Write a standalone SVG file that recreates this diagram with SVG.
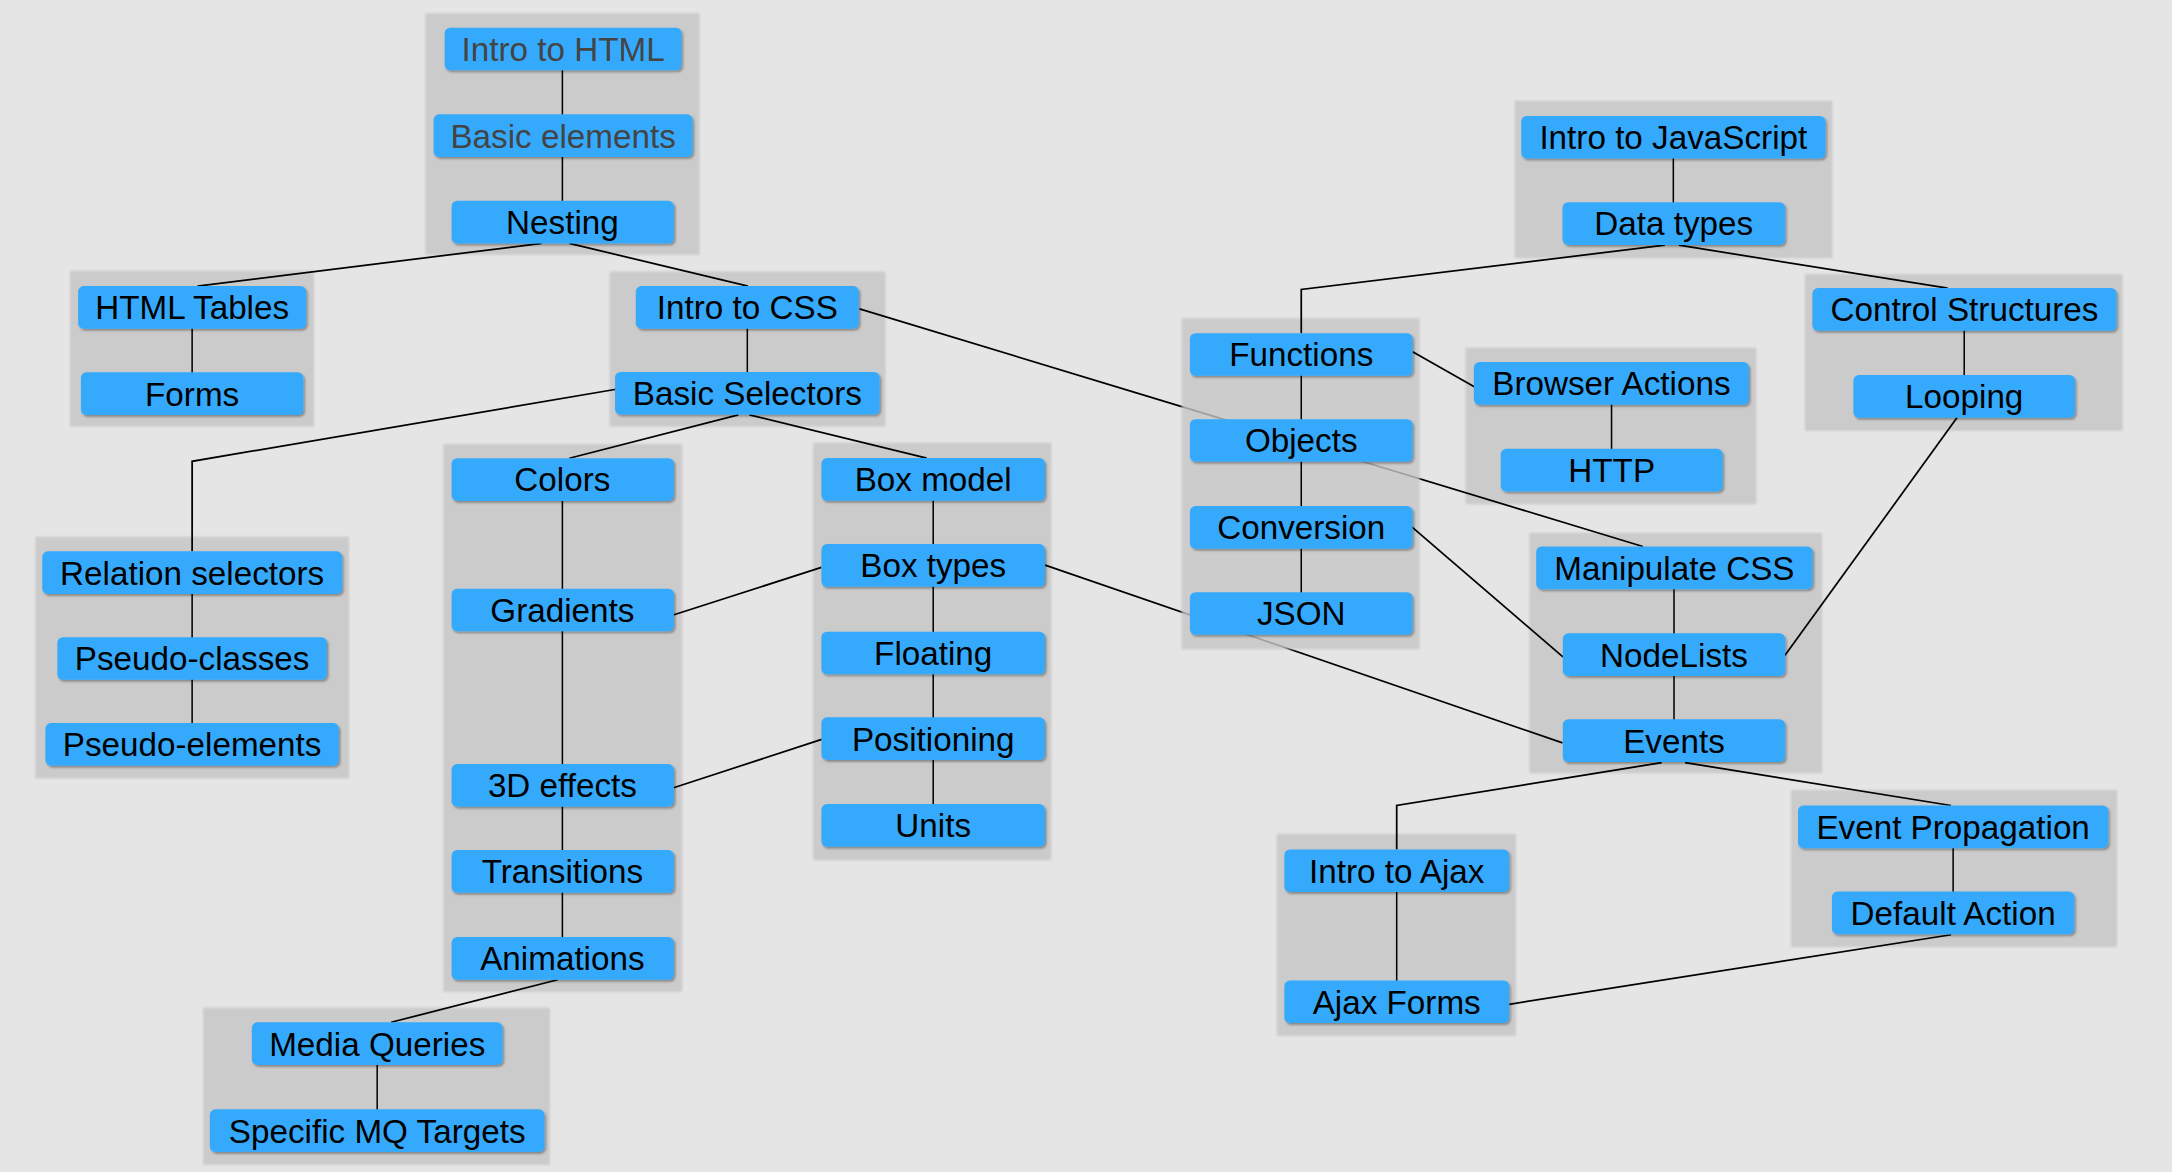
<svg xmlns="http://www.w3.org/2000/svg" width="2172" height="1172" viewBox="0 0 2172 1172">
<defs>
<filter id="sh" x="-10%" y="-20%" width="120%" height="150%">
<feDropShadow dx="1.1" dy="1.3" stdDeviation="0.8" flood-color="#000" flood-opacity="0.35"/>
</filter>
<filter id="soft" x="-5%" y="-5%" width="110%" height="110%">
<feGaussianBlur stdDeviation="0.7"/>
</filter>
<style>
.bg{fill:#e5e5e5}
.cl{fill:#cbcbcb;filter:url(#soft)}
.clf{fill:#c7c7c7;opacity:0.8;filter:url(#soft)}
.e{fill:none;stroke:#000;stroke-width:1.25}
.ei{fill:none;stroke:#000;stroke-width:1.1}
.n rect{fill:#35aafd;filter:url(#sh)}
.n text{font-family:"Liberation Sans",Arial,Helvetica,sans-serif;font-size:24px;fill:#000;text-anchor:middle}
.n.v text{fill:#444}
</style>
</defs>
<rect class="bg" x="0" y="0" width="2172" height="1172"/>
<g transform="scale(1.3852)">
<g id="clusters">
<rect class="cl" x="307" y="9.5" width="198" height="174.5"/>
<rect class="cl" x="50.5" y="195.5" width="176.2" height="112.5"/>
<rect class="cl" x="440" y="196" width="199.3" height="112"/>
<rect class="cl" x="25.5" y="387.5" width="226.5" height="174.5"/>
<rect class="cl" x="320" y="320.6" width="172.5" height="395.4"/>
<rect class="cl" x="587" y="319.6" width="172" height="301.4"/>
<rect class="cl" x="146.6" y="727.5" width="250.4" height="113.5"/>
<rect class="cl" x="1093.4" y="72.7" width="229.5" height="113.6"/>
<rect class="cl" x="1303" y="197.8" width="229.4" height="113.2"/>
<rect class="cl" x="1058" y="251" width="210" height="113"/>
<rect class="cl" x="1104" y="384.7" width="211.5" height="173.5"/>
<rect class="cl" x="921.7" y="602" width="172.8" height="145.8"/>
<rect class="cl" x="1292.9" y="570.3" width="235.5" height="113.4"/>
</g>
<g id="connectors">
<path class="e" d="M620.5,223 L1186,394.5"/>
<path class="e" d="M754.5,408 L1128,536.3"/>
<rect id="cluster-functions" class="clf" x="853" y="229.6" width="172" height="239.1"/>
<path class="e" d="M391,175.7 L142.5,206.5"/>
<path class="e" d="M411,175.7 L540,206.5"/>
<path class="e" d="M444.9,281 L138.7,333 V398"/>
<path class="e" d="M533,299.5 L411,330.8"/>
<path class="e" d="M541,299.5 L669,330.7"/>
<path class="e" d="M593,409.6 L486,444"/>
<path class="e" d="M593.2,533.8 L486.3,568.7"/>
<path class="e" d="M402.6,707.3 L282.4,738"/>
<path class="e" d="M1019.8,254 L1064.3,279.2"/>
<path class="e" d="M1019.2,380.3 L1128.5,474.4"/>
<path class="e" d="M1413,301.3 L1288.5,473.2"/>
<path class="e" d="M1201.8,177 L939.4,209 V240.5"/>
<path class="e" d="M1212,177 L1406,208"/>
<path class="e" d="M1199.6,550.5 L1008.3,581.5 V613.2"/>
<path class="e" d="M1216.5,550.5 L1408.5,581.5"/>
<path class="e" d="M1408.5,674.8 L1089.5,725"/>
<path class="ei" d="M406,35 V160"/>
<path class="ei" d="M138.7,220 V285"/>
<path class="ei" d="M539.5,220 V285"/>
<path class="ei" d="M138.7,410 V540"/>
<path class="ei" d="M406,345 V692"/>
<path class="ei" d="M673.7,345 V595"/>
<path class="ei" d="M272.3,752 V815"/>
<path class="ei" d="M1208,98 V160"/>
<path class="ei" d="M1418,222 V285"/>
<path class="ei" d="M1163.4,275 V338"/>
<path class="ei" d="M939.4,255 V442"/>
<path class="ei" d="M1208.5,408 V533"/>
<path class="ei" d="M1008.3,627 V722"/>
<path class="ei" d="M1410,595 V658"/>
</g>
<g id="n-intro-html" class="n v"><rect x="321" y="20" width="171" height="30.8" rx="4"/><text x="406.5" y="44">Intro to HTML</text></g>
<g id="n-basic-elements" class="n v"><rect x="313" y="82.5" width="187" height="30.8" rx="4"/><text x="406.5" y="106.5">Basic elements</text></g>
<g id="n-nesting" class="n"><rect x="326" y="145" width="160.5" height="30.8" rx="4"/><text x="406" y="169">Nesting</text></g>
<g id="n-html-tables" class="n"><rect x="56.4" y="206.5" width="164.6" height="30.8" rx="4"/><text x="138.7" y="230.5">HTML Tables</text></g>
<g id="n-forms" class="n"><rect x="58.4" y="268.8" width="160.6" height="30.8" rx="4"/><text x="138.7" y="292.8">Forms</text></g>
<g id="n-intro-css" class="n"><rect x="459" y="206.5" width="161" height="30.8" rx="4"/><text x="539.5" y="230.5">Intro to CSS</text></g>
<g id="n-basic-selectors" class="n"><rect x="444" y="268.5" width="191" height="30.8" rx="4"/><text x="539.5" y="292.5">Basic Selectors</text></g>
<g id="n-relation-selectors" class="n"><rect x="30.5" y="398" width="216.5" height="30.8" rx="4"/><text x="138.7" y="422">Relation selectors</text></g>
<g id="n-pseudo-classes" class="n"><rect x="41.4" y="460" width="194.6" height="30.8" rx="4"/><text x="138.7" y="484">Pseudo-classes</text></g>
<g id="n-pseudo-elements" class="n"><rect x="32.8" y="522" width="211.8" height="30.8" rx="4"/><text x="138.7" y="546">Pseudo-elements</text></g>
<g id="n-colors" class="n"><rect x="326" y="330.8" width="160.5" height="30.8" rx="4"/><text x="406" y="354.8">Colors</text></g>
<g id="n-gradients" class="n"><rect x="326" y="425" width="160.5" height="30.8" rx="4"/><text x="406" y="449">Gradients</text></g>
<g id="n-3d-effects" class="n"><rect x="326" y="551.6" width="160.5" height="30.8" rx="4"/><text x="406" y="575.6">3D effects</text></g>
<g id="n-transitions" class="n"><rect x="326" y="613.7" width="160.5" height="30.8" rx="4"/><text x="406" y="637.7">Transitions</text></g>
<g id="n-animations" class="n"><rect x="326" y="676.5" width="160.5" height="30.8" rx="4"/><text x="406" y="700.5">Animations</text></g>
<g id="n-box-model" class="n"><rect x="593" y="330.7" width="161.4" height="30.8" rx="4"/><text x="673.7" y="354.7">Box model</text></g>
<g id="n-box-types" class="n"><rect x="593" y="392.8" width="161.4" height="30.8" rx="4"/><text x="673.7" y="416.8">Box types</text></g>
<g id="n-floating" class="n"><rect x="593" y="456" width="161.4" height="30.8" rx="4"/><text x="673.7" y="480">Floating</text></g>
<g id="n-positioning" class="n"><rect x="593" y="517.8" width="161.4" height="30.8" rx="4"/><text x="673.7" y="541.8">Positioning</text></g>
<g id="n-units" class="n"><rect x="593" y="580.5" width="161.4" height="30.8" rx="4"/><text x="673.7" y="604.5">Units</text></g>
<g id="n-media-queries" class="n"><rect x="181.8" y="738" width="181" height="30.8" rx="4"/><text x="272.3" y="762">Media Queries</text></g>
<g id="n-specific-mq" class="n"><rect x="151.5" y="800.8" width="241.5" height="30.8" rx="4"/><text x="272.3" y="824.8">Specific MQ Targets</text></g>
<g id="n-intro-js" class="n"><rect x="1098.2" y="83.7" width="219.6" height="30.8" rx="4"/><text x="1208" y="107.7">Intro to JavaScript</text></g>
<g id="n-data-types" class="n"><rect x="1128" y="146" width="160.7" height="30.8" rx="4"/><text x="1208.3" y="170">Data types</text></g>
<g id="n-control-structures" class="n"><rect x="1308.4" y="208" width="219.6" height="30.8" rx="4"/><text x="1418.2" y="232">Control Structures</text></g>
<g id="n-looping" class="n"><rect x="1338" y="270.8" width="160" height="30.8" rx="4"/><text x="1418" y="294.8">Looping</text></g>
<g id="n-browser-actions" class="n"><rect x="1064" y="261.4" width="198.6" height="30.8" rx="4"/><text x="1163.3" y="285.4">Browser Actions</text></g>
<g id="n-http" class="n"><rect x="1083.4" y="324" width="160.2" height="30.8" rx="4"/><text x="1163.5" y="348">HTTP</text></g>
<g id="n-functions" class="n"><rect x="859" y="240.5" width="160.8" height="30.8" rx="4"/><text x="939.4" y="264.5">Functions</text></g>
<g id="n-objects" class="n"><rect x="859" y="302.6" width="160.8" height="30.8" rx="4"/><text x="939.4" y="326.6">Objects</text></g>
<g id="n-conversion" class="n"><rect x="859" y="365.3" width="160.8" height="30.8" rx="4"/><text x="939.4" y="389.3">Conversion</text></g>
<g id="n-json" class="n"><rect x="859" y="427.5" width="160.8" height="30.8" rx="4"/><text x="939.4" y="451.5">JSON</text></g>
<g id="n-manipulate-css" class="n"><rect x="1109" y="394.5" width="199.6" height="30.8" rx="4"/><text x="1208.8" y="418.5">Manipulate CSS</text></g>
<g id="n-nodelists" class="n"><rect x="1128.2" y="457.2" width="160.5" height="30.8" rx="4"/><text x="1208.5" y="481.2">NodeLists</text></g>
<g id="n-events" class="n"><rect x="1128.2" y="519.3" width="160.5" height="30.8" rx="4"/><text x="1208.5" y="543.3">Events</text></g>
<g id="n-intro-ajax" class="n"><rect x="927.2" y="613.2" width="162.3" height="30.8" rx="4"/><text x="1008.3" y="637.2">Intro to Ajax</text></g>
<g id="n-ajax-forms" class="n"><rect x="927.2" y="707.8" width="162.3" height="30.8" rx="4"/><text x="1008.3" y="731.8">Ajax Forms</text></g>
<g id="n-event-propagation" class="n"><rect x="1298" y="581.5" width="224" height="30.8" rx="4"/><text x="1410" y="605.5">Event Propagation</text></g>
<g id="n-default-action" class="n"><rect x="1322.5" y="643.6" width="175" height="30.8" rx="4"/><text x="1410" y="667.6">Default Action</text></g>
</g>
</svg>
